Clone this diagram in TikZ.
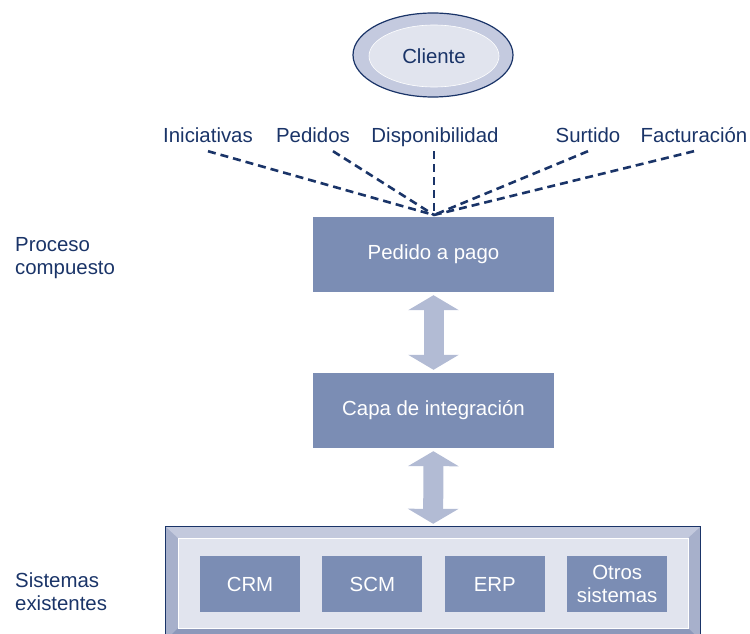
\documentclass[tikz,border=0pt]{standalone}
\usepackage{fontspec}
\setmainfont{Liberation Sans}
\usepackage{xcolor}
\usetikzlibrary{arrows.meta,positioning,shapes.geometric}

\definecolor{navy}{HTML}{1A3468}
\definecolor{boxfill}{HTML}{7B8DB4}
\definecolor{arrowfill}{HTML}{B2BBD4}
\definecolor{ringfill}{HTML}{C4CADF}
\definecolor{facefill}{HTML}{E1E4EE}
\definecolor{sidebevel}{HTML}{A7B0CB}
\definecolor{topbevel}{HTML}{C3C9DD}
\definecolor{botbevel}{HTML}{8C98BA}

\begin{document}
\begin{tikzpicture}[
    x=1pt, y=-1pt,
    font=\fontsize{20.4}{23}\selectfont,
    node distance=22pt,
    procbox/.style={fill=boxfill, text=white, minimum width=241pt, minimum height=75pt, inner sep=0pt},
    sysbox/.style={fill=boxfill, text=white, align=center, minimum width=100pt, minimum height=56pt, inner sep=0pt},
    lbl/.style={text=navy, anchor=base, text depth=4pt, inner xsep=0pt, inner ysep=5pt},
    sidelbl/.style={text=navy, align=left, anchor=west, inner sep=0pt},
    dashline/.style={navy, line width=2.6pt, dash pattern=on 8pt off 5pt},
    dblarrow/.style={arrowfill, line width=20pt, {Triangle[width=50pt,length=15pt]}-{Triangle[width=50pt,length=15pt]}, shorten <=3pt, shorten >=3pt}
  ]
    \useasboundingbox (0,0) rectangle (750,634);

    % cliente
    \node[ellipse, draw=navy, line width=1.2pt, fill=ringfill, minimum width=160pt, minimum height=84pt] (ring) at (433,55) {};
    \node[ellipse, draw=white, line width=0.6pt, fill=facefill, text=navy, minimum width=130pt, minimum height=62pt] (cliente) at (434,56) {Cliente};

    % flujos hacia el proceso
    \node[lbl] (inic) at (208,142) {Iniciativas};
    \node[lbl] (pedidos) at (313,142) {Pedidos};
    \node[lbl] (dispo) at (435,142) {Disponibilidad};
    \node[lbl] (surtido) at (588,142) {Surtido};
    \node[lbl] (factura) at (694,142) {Facturación};
    \coordinate (hub) at (434,215);

    \draw[dashline] (inic.south) -- (hub);
    \draw[dashline] ([xshift=20pt]pedidos.south) -- (hub);
    \draw[dashline] ([xshift=-1pt]dispo.south) -- (hub);
    \draw[dashline] (surtido.south) -- (hub);
    \draw[dashline] (factura.south) -- (hub);

    % capas
    \node[procbox] (pedido) at (433.5,254.5) {Pedido a pago};
    \node[procbox] (capa) at (433.5,410.5) {Capa de integración};

    % sistemas existentes
    \node[fill=sidebevel, minimum width=534pt, minimum height=113pt, inner sep=0pt] (frame) at (433,583.5) {};
    \fill[topbevel] (frame.north west) -- (frame.north east) -- ([shift={(-12,11)}]frame.north east) -- ([shift={(12,11)}]frame.north west) -- cycle;
    \fill[botbevel] (frame.south west) -- (frame.south east) -- ([shift={(-12,-12)}]frame.south east) -- ([shift={(12,-12)}]frame.south west) -- cycle;
    \node[fill=facefill, draw=white, line width=0.8pt, minimum width=510pt, minimum height=90pt, inner sep=0pt] (face) at (433,583) {};
    \draw[navy, line width=1.2pt] (frame.north west) rectangle (frame.south east);

    \node[sysbox] (crm) at (250,584) {CRM};
    \node[sysbox, right=of crm] (scm) {SCM};
    \node[sysbox, right=of scm] (erp) {ERP};
    \node[sysbox, right=of erp] (otros) {Otros\\sistemas};

    \draw[dblarrow] (pedido) -- (capa);
    \draw[dblarrow] (capa) -- (frame);

    % etiquetas laterales
    \node[sidelbl] (proceso) at (15,258.5) {Proceso\\compuesto};
    \node[sidelbl] (sistemas) at (15,592) {Sistemas\\existentes};
  \end{tikzpicture}
\end{document}
